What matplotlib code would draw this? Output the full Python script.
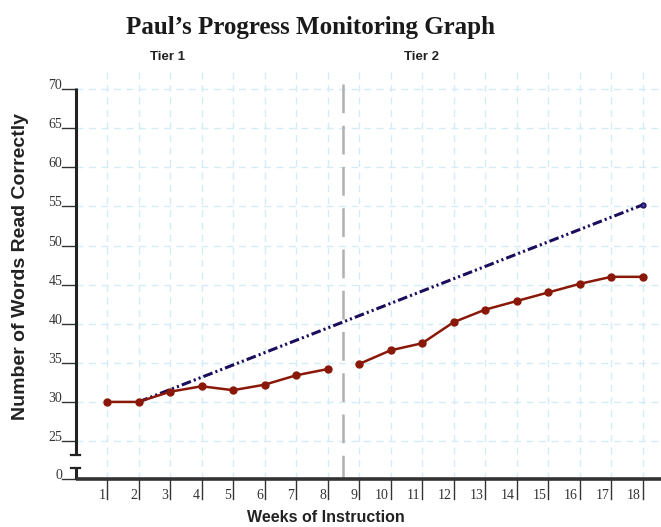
import matplotlib
matplotlib.use("Agg")
import matplotlib.pyplot as plt

weeks = list(range(1, 19))
words_correct = [30.0, 30.0, 31.3, 32.0, 31.5, 32.2, 33.4, 34.2,
                 34.85, 36.6, 37.5, 40.2, 41.8, 42.9, 44.0, 45.1, 46.0, 46.0]
goal_weeks = [2, 18]
goal_values = [30.0, 55.2]
y_ticks = [25, 30, 35, 40, 45, 50, 55, 60, 65, 70]
phase_change = 8.5
tier_labels = ["Tier 1", "Tier 2"]

Y0 = 20.14  # position where "0" is drawn (broken axis)
YTOP = 72.2

fig = plt.figure(figsize=(6.61, 5.27), dpi=100)
ax = fig.add_axes([75.5/661, 48/527, (660-75.5)/661, (479-72)/527])
ax.set_xlim(0, 18.55)
ax.set_ylim(Y0, YTOP)
for s in ax.spines.values():
    s.set_visible(False)
ax.set_xticks([]); ax.set_yticks([])

grid_c = "#d4ebf8"
for w in weeks:
    ax.plot([w, w], [Y0, YTOP], color=grid_c, lw=1, ls=(0, (5, 4)), zorder=0)
for yv in y_ticks:
    ax.plot([0, 18.55], [yv, yv], color=grid_c, lw=1, ls=(0, (5, 4)), zorder=0)

# phase line
ax.plot([phase_change, phase_change], [Y0, YTOP], color="#b0b0b0", lw=1.8,
        ls=(2, (11.5, 5)), zorder=1)

# goal line
ax.plot(goal_weeks, goal_values, color="#1c0c5c", lw=2.2,
        ls=(0, (3.2, 1.0, 0.7, 1.0, 0.7, 1.0)), zorder=3)
ax.plot(goal_weeks, goal_values, ls="none", marker="o", ms=3.5,
        mfc="#3a3a9a", mec="#1c0c5c", zorder=4)

# data
dark_red = "#8a1808"
pre = [w for w in weeks if w < phase_change]
post = [w for w in weeks if w > phase_change]
ax.plot(pre, words_correct[:len(pre)], color=dark_red, lw=1.8, marker="o",
        ms=5, zorder=5)
ax.plot(post, words_correct[len(pre):], color=dark_red, lw=1.8, marker="o",
        ms=5, zorder=5)

# axes lines (broken y axis)
axc = "#222222"
y_break_top = 23.2
y_break_bot = 21.55
ax.plot([0, 0], [y_break_top, YTOP - 2.0], color=axc, lw=2.2, clip_on=False,
        solid_capstyle="butt", zorder=6)
ax.plot([-0.13, 0.13], [y_break_top, y_break_top], color=axc, lw=1.6, clip_on=False, zorder=6)
ax.plot([0, 0], [Y0, y_break_bot], color=axc, lw=2.2, clip_on=False,
        solid_capstyle="butt", zorder=6)
ax.plot([-0.13, 0.13], [y_break_bot, y_break_bot], color=axc, lw=1.6, clip_on=False, zorder=6)
ax.plot([0, 18.6], [Y0, Y0], color="#333333", lw=2.6, clip_on=False, zorder=6,
        solid_capstyle="butt")

# y tick marks and labels
tick_font = dict(family="Liberation Serif", size=10, color="#333333")
ytick_pos = y_ticks + [Y0]
ytick_lab = [str(v) for v in y_ticks] + ["0"]
for yp, lab in zip(ytick_pos, ytick_lab):
    ax.plot([-0.42, 0], [yp, yp], color="#333333", lw=1.0, clip_on=False)
    ax.text(-0.42, yp, lab, ha="right", va="baseline", fontdict=tick_font,
            clip_on=False)

# x tick marks and labels
for w in weeks:
    ax.plot([w, w], [Y0, Y0 - 2.6], color="#333333", lw=1.0, clip_on=False)
    ax.text(w - 0.05, Y0 - 2.55, str(w), ha="right", va="baseline",
            fontdict=tick_font, clip_on=False)

fig.text(311/661, 1 - 34/527, "Paul\u2019s Progress Monitoring Graph",
         ha="center", va="baseline", family="Liberation Serif",
         weight="bold", size=18, color="#1a1a1a")
fig.text(168/661, 1 - 60/527, tier_labels[0], ha="center", va="baseline",
         family=["Liberation Sans Narrow", "Liberation Sans"], weight="bold",
         size=9.5, color="#222222")
fig.text(421/661, 1 - 60/527, tier_labels[1], ha="center", va="baseline",
         family=["Liberation Sans Narrow", "Liberation Sans"], weight="bold",
         size=9.5, color="#222222")
fig.text(326/661, 1 - 517/527, "Weeks of Instruction", ha="center", va="center",
         family="Liberation Sans", weight="bold", size=11.5, color="#222222")
fig.text(21/661, 1 - 266/527, "Number of Words Read Correctly", ha="center",
         va="center", rotation=90, family="Liberation Sans", weight="bold",
         size=14, color="#222222")

fig.savefig("out.png", dpi=100)
